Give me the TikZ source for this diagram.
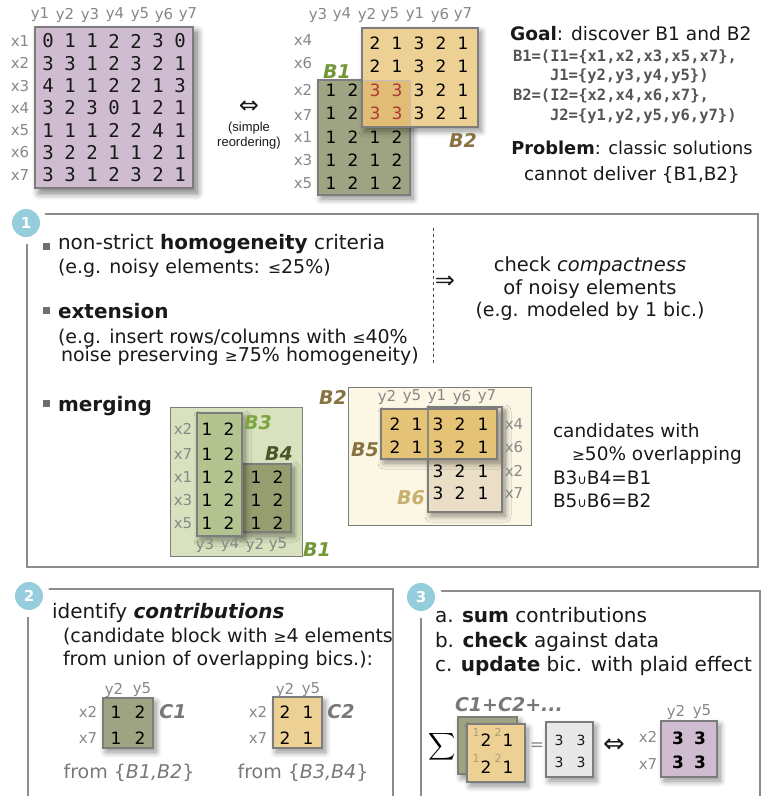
\documentclass[tikz,border=0pt]{standalone}
\usepackage{fontspec}
\usepackage{graphicx}
\setmainfont{DejaVu Sans}
\newfontfamily\digitmono{DejaVu Sans Mono}
\newfontfamily\captionfont{Liberation Sans}
\usetikzlibrary{shadows.blur}

\newcommand\setfs[1]{\fontsize{#1}{#1}\selectfont}
\newcommand\smallrel[1]{{\setfs{15.5}#1}}

\definecolor{lilac}{RGB}{207,188,208}
\definecolor{olive}{RGB}{158,164,130}
\definecolor{tan}{RGB}{237,209,148}
\definecolor{overlap}{RGB}{224,188,116}
\definecolor{leaf}{RGB}{216,226,190}
\definecolor{sage}{RGB}{180,196,145}
\definecolor{moss}{RGB}{150,158,112}
\definecolor{cream}{RGB}{252,246,228}
\definecolor{gold}{RGB}{228,195,118}
\definecolor{sand}{RGB}{234,223,198}
\definecolor{paper}{RGB}{232,232,232}
\definecolor{badgeblue}{RGB}{150,205,221}
\definecolor{framegray}{RGB}{140,140,140}
\definecolor{boxgray}{RGB}{125,125,125}
\definecolor{labgray}{RGB}{135,135,135}
\definecolor{bulletgray}{RGB}{110,110,110}
\definecolor{ink}{RGB}{25,25,25}
\definecolor{cellred}{RGB}{175,55,55}
\definecolor{tagolive}{RGB}{115,150,55}
\definecolor{tagsage}{RGB}{125,165,65}
\definecolor{tagdark}{RGB}{75,85,40}
\definecolor{tagbrown}{RGB}{135,115,65}
\definecolor{tagsand}{RGB}{200,175,110}
\definecolor{taggray}{RGB}{120,120,120}
\definecolor{monogray}{RGB}{85,85,85}

\tikzset{
  every node/.style={inner sep=0pt, outer sep=0pt},
  lab/.style={text=labgray, font=\setfs{15}},
  mdig/.style={text=ink, font=\digitmono\setfs{19}},
  bdig/.style={text=black, font=\setfs{17}},
  sdig/.style={text=ink, font=\setfs{14}},
  ghost/.style={text=tagbrown!70, font=\setfs{11}},
  body/.style={anchor=base west, text=ink, font=\setfs{20}},
  note/.style={anchor=base west, text=ink, font=\setfs{19}},
  side/.style={anchor=base west, text=ink, font=\setfs{18.5}},
  sidec/.style={anchor=base, text=ink, font=\setfs{18.4}},
  monoline/.style={anchor=base west, text=monogray, font=\digitmono\bfseries\setfs{15.5}},
  tag/.style={font=\bfseries\itshape\setfs{19}},
  frame/.style={draw=framegray, line width=1.4pt},
  boxedge/.style={draw=boxgray, line width=1.2pt},
  shade/.style={blur shadow={shadow xshift=3pt, shadow yshift=-4pt,
      shadow blur radius=6pt, shadow blur steps=10, shadow opacity=45}},
  bigshade/.style={blur shadow={shadow xshift=4pt, shadow yshift=-5pt,
      shadow blur radius=7pt, shadow blur steps=10, shadow opacity=55}},
  bullet/.style={fill=bulletgray, minimum size=7pt},
}

\begin{document}
\begin{tikzpicture}[x=1pt, y=-1pt]
\useasboundingbox (0,0) rectangle (765,796);

% ---------------- original data matrix ----------------
\draw[boxedge, fill=lilac, bigshade] (35,27) rectangle (193,188);
\foreach \c/\px in {1/40,2/65,3/90,4/115,5/140,6/164,7/188}
  \node[lab] (DY-\c) at (\px,15) {y\c};
\foreach \r in {1,...,7}
  \node[lab] (DX-\r) at (20,{18.7+22.3*\r}) {x\r};
\foreach \row [count=\r] in {{0,1,1,2,2,3,0},{3,3,1,2,3,2,1},{4,1,1,2,2,1,3},
    {3,2,3,0,1,2,1},{1,1,1,2,2,4,1},{3,2,2,1,1,2,1},{3,3,1,2,3,2,1}}
  \foreach \v [count=\c] in \row
    \node[mdig] (D-\r-\c) at ({26+22*\c},{18.7+22.3*\r}) {\v};

% equivalence under reordering
\node[font=\setfs{24}, text=ink] (equiv) at (249,107) {⇔};
\node[font=\captionfont\setfs{13}, text=ink] (reord1) at (249,128) {(simple};
\node[font=\captionfont\setfs{13}, text=ink] (reord2) at (249,143) {reordering)};

% ---------------- reordered matrix ----------------
\foreach \n/\px in {3/318,4/342,2/367,5/390,1/415,6/440,7/463}
  \node[lab] (RY-\n) at (\px,15) {y\n};
\foreach \n/\py in {4/40,6/63,2/90,7/115,1/137,3/160,5/183}
  \node[lab] (RX-\n) at (303,\py) {x\n};

\draw[boxedge, fill=olive, shade] (318,80) rectangle (410,195);
\draw[boxedge, fill=tan, shade] (362,28) rectangle (478,127);
\draw[draw=boxgray!50, line width=0.7pt, fill=overlap] (362,80) rectangle (410,127);
\draw[boxedge] (362,28) rectangle (478,127);

\foreach \py/\nm in {137/1,160/3,183/5}
  \foreach \v/\px [count=\c] in {1/331,2/353,1/375,2/397}
    \node[bdig] (RB1-\nm-\c) at (\px,\py) {\v};
\foreach \py/\nm in {90/2,113/7}
  \foreach \v/\px [count=\c] in {1/331,2/353}
    \node[bdig] (RB1-\nm-\c) at (\px,\py) {\v};
\foreach \py/\nm in {43/4,66/6}
  \foreach \v/\px [count=\c] in {2/375,1/397,3/419,2/441,1/463}
    \node[bdig] (RB2-\nm-\c) at (\px,\py) {\v};
\foreach \py/\nm in {90/2,113/7} {
  \foreach \px [count=\c] in {375,397}
    \node[bdig, text=cellred] (RB2-\nm-\c) at (\px,\py) {3};
  \foreach \v/\px [count=\c from 3] in {3/419,2/441,1/463}
    \node[bdig] (RB2-\nm-\c) at (\px,\py) {\v};
}
\node[tag, text=tagolive] (tagB1top) at (337,72) {B1};
\node[tag, text=tagbrown] (tagB2top) at (463,140) {B2};

% ---------------- goal / problem ----------------
\node[side, font=\setfs{18.6}] (goal) at (510,40) {\textbf{Goal}: discover B1 and B2};
\node[monoline] (def1) at (513,61) {B1=(I1=\{x1,x2,x3,x5,x7\},};
\node[monoline] (def2) at (550,80) {J1=\{y2,y3,y4,y5\})};
\node[monoline] (def3) at (513,100) {B2=(I2=\{x2,x4,x6,x7\},};
\node[monoline] (def4) at (550,120) {J2=\{y1,y2,y5,y6,y7\})};
\node[sidec, font=\setfs{17.8}] (prob1) at (632,154) {\textbf{Problem}: classic solutions};
\node[sidec] (prob2) at (632,180) {cannot deliver \{B1,B2\}};

% ---------------- step 1 panel ----------------
\draw[frame] (27,214) rectangle (758,567);
\fill[white] (26,223) circle (21);
\fill[badgeblue] (26,223) circle (14);
\node[font=\bfseries\setfs{15}, text=white] (badge1) at (26,223) {1};

\node[bullet] (bul1) at (46,246) {};
\node[body] (h1) at (58,249) {non-strict \textbf{homogeneity} criteria};
\node[note] (h2) at (58,273) {(e.g. noisy elements: \smallrel{≤}25\%)};
\node[bullet] (bul2) at (46,310) {};
\node[body] (e1) at (58,318) {\textbf{extension}};
\node[note] (e2) at (58,343) {(e.g. insert rows/columns with \smallrel{≤}40\%};
\node[note] (e3) at (61,361) {noise preserving \smallrel{≥}75\% homogeneity)};

\coordinate (dashtop) at (433,228);
\coordinate (dashbot) at (433,363);
\draw[dashed, draw=ink!80, line width=0.8pt] (dashtop) -- (dashbot);
\node[font=\setfs{24}, text=ink] (implies) at (445,282) {⇒};
\node[anchor=base, text=ink, font=\setfs{19.5}] (c1) at (590,271) {check \textit{compactness}};
\node[anchor=base, text=ink, font=\setfs{19.5}] (c2) at (590,294) {of noisy elements};
\node[anchor=base, text=ink, font=\setfs{19}] (c3) at (590,316) {(e.g. modeled by 1 bic.)};

\node[bullet] (bul3) at (46,403) {};
\node[body] (m1) at (58,411) {\textbf{merging}};

% merged bicluster B1 = B3 u B4
\draw[boxedge, line width=1pt, fill=leaf] (170,407) rectangle (302,556);
\draw[boxedge, fill=moss, shade] (240,464) rectangle (291,532);
\draw[boxedge, fill=sage, shade] (197,413) rectangle (242,536);
\foreach \n/\py in {2/429,7/454,1/477,3/500,5/523} {
  \node[lab] (MX-\n) at (183,\py) {x\n};
  \node[bdig] (B3-\n-1) at (207,\py) {1};
  \node[bdig] (B3-\n-2) at (229,\py) {2};
}
\foreach \n/\py in {1/477,3/500,5/523} {
  \node[bdig] (B4-\n-1) at (256,\py) {1};
  \node[bdig] (B4-\n-2) at (278,\py) {2};
}
\foreach \n/\px in {3/205,4/230,2/255,5/278}
  \node[lab] (MY-\n) at (\px,545) {y\n};
\node[tag, text=tagsage] (tagB3) at (258,423) {B3};
\node[tag, text=tagdark] (tagB4) at (279,454) {B4};
\node[tag, text=tagolive] (tagB1) at (317,550) {B1};

% merged bicluster B2 = B5 u B6
\draw[boxedge, line width=1pt, fill=cream] (348,387) rectangle (531,525);
\draw[boxedge, fill=sand, shade] (428,407) rectangle (502,512);
\draw[boxedge, fill=gold, shade] (381,409) rectangle (497,459);
\draw[boxedge, draw opacity=0.8] (428,407) rectangle (502,512);
\foreach \n/\px in {2/387,5/412,1/437,6/462,7/487}
  \node[lab] (NY-\n) at (\px,397) {y\n};
\foreach \n/\py in {4/424,6/447} {
  \node[lab] (NX-\n) at (514,\py) {x\n};
  \foreach \v/\px [count=\c] in {2/395,1/417,3/438,2/460,1/483}
    \node[bdig] (B5-\n-\c) at (\px,\py) {\v};
}
\foreach \n/\py in {2/471,7/493} {
  \node[lab] (NX-\n) at (514,\py) {x\n};
  \foreach \v/\px [count=\c] in {3/438,2/460,1/483}
    \node[bdig] (B6-\n-\c) at (\px,\py) {\v};
}
\node[tag, text=tagbrown] (tagB2) at (333,397) {B2};
\node[tag, text=tagbrown] (tagB5) at (365,450) {B5};
\node[tag, text=tagsand] (tagB6) at (411,498) {B6};

\node[side] (cand1) at (553,437) {candidates with};
\node[side] (cand2) at (572,460) {\smallrel{≥}50\% overlapping};
\node[side] (cand3) at (553,484) {B3{\setfs{13}∪}B4=B1};
\node[side] (cand4) at (553,507) {B5{\setfs{13}∪}B6=B2};

% ---------------- step 2 panel ----------------
\draw[frame] (28,796) -- (28,589) -- (393,589) -- (393,796);
\fill[white] (29,596) circle (21);
\fill[badgeblue] (29,596) circle (14);
\node[font=\bfseries\setfs{15}, text=white] (badge2) at (29,596) {2};

\node[body] (id1) at (52,618) {identify \textbf{\textit{contributions}}};
\node[note] (id2) at (63,642) {(candidate block with \smallrel{≥}4 elements};
\node[note] (id3) at (63,665) {from union of overlapping bics.):};

\draw[boxedge, fill=olive, shade] (103,698) rectangle (153,748);
\node[lab] (C1y2) at (114,690) {y2};
\node[lab] (C1y5) at (142,690) {y5};
\node[lab] (C1x2) at (88,712) {x2};
\node[lab] (C1x7) at (88,738) {x7};
\foreach \n/\py in {2/712,7/738} {
  \node[bdig] (C1-\n-1) at (116,\py) {1};
  \node[bdig] (C1-\n-2) at (140,\py) {2};
}
\node[tag, text=taggray] (tagC1) at (173,712) {C1};
\node[anchor=base, text=taggray, font=\setfs{19}] (from1) at (129,778) {from \{\textit{B1,B2}\}};

\draw[boxedge, fill=tan, shade] (273,697) rectangle (322,748);
\node[lab] (C2y2) at (285,690) {y2};
\node[lab] (C2y5) at (311,690) {y5};
\node[lab] (C2x2) at (258,712) {x2};
\node[lab] (C2x7) at (258,738) {x7};
\foreach \n/\py in {2/712,7/738} {
  \node[bdig] (C2-\n-1) at (285,\py) {2};
  \node[bdig] (C2-\n-2) at (308,\py) {1};
}
\node[tag, text=taggray] (tagC2) at (341,712) {C2};
\node[anchor=base, text=taggray, font=\setfs{19}] (from2) at (303,778) {from \{\textit{B3,B4}\}};

% ---------------- step 3 panel ----------------
\draw[frame] (421,796) -- (421,591) -- (760,591) -- (760,796);
\fill[white] (421,597) circle (21);
\fill[badgeblue] (421,597) circle (14);
\node[font=\bfseries\setfs{15}, text=white] (badge3) at (421,597) {3};

\node[body] (s1) at (435,622) {a. \textbf{sum} contributions};
\node[body] (s2) at (435,647) {b. \textbf{check} against data};
\node[body] (s3) at (435,671) {c. \textbf{update} bic. with plaid effect};

\node[tag, text=taggray, anchor=base west] (sumtag) at (455,711) {C1+C2+...};
\node (sigma) at (442,747) {\scalebox{1.9}{$\displaystyle\sum$}};
\draw[boxedge, fill=olive, shade] (458,717) rectangle (517,774);
\draw[boxedge, fill=tan, shade] (467,724) rectangle (525,782);
\foreach \n/\py/\gy in {1/740/732,2/767/758} {
  \node[ghost] (G-\n-1) at (476,\gy) {1};
  \node[ghost] (G-\n-2) at (498,\gy) {2};
  \node[bdig] (S-\n-1) at (486,\py) {2};
  \node[bdig] (S-\n-2) at (508,\py) {1};
}
\node[font=\setfs{17}, text=labgray] (eqsign) at (537,747) {=};
\draw[boxedge, fill=paper, shade] (546,722) rectangle (593,777);
\foreach \n/\py in {1/740,2/762} {
  \node[sdig] (P-\n-1) at (559,\py) {3};
  \node[sdig] (P-\n-2) at (581,\py) {3};
}
\node[font=\setfs{26}, text=ink] (equiv2) at (614,746) {⇔};
\node[lab] (Dx2) at (648,737) {x2};
\node[lab] (Dx7) at (648,764) {x7};
\node[lab] (Dy2) at (676,712) {y2};
\node[lab] (Dy5) at (702,712) {y5};
\draw[boxedge, fill=lilac, shade] (661,721) rectangle (717,777);
\foreach \n/\py in {2/738,7/762} {
  \node[bdig, font=\bfseries\setfs{17}] (Q-\n-1) at (678,\py) {3};
  \node[bdig, font=\bfseries\setfs{17}] (Q-\n-2) at (700,\py) {3};
}
\end{tikzpicture}
\end{document}
